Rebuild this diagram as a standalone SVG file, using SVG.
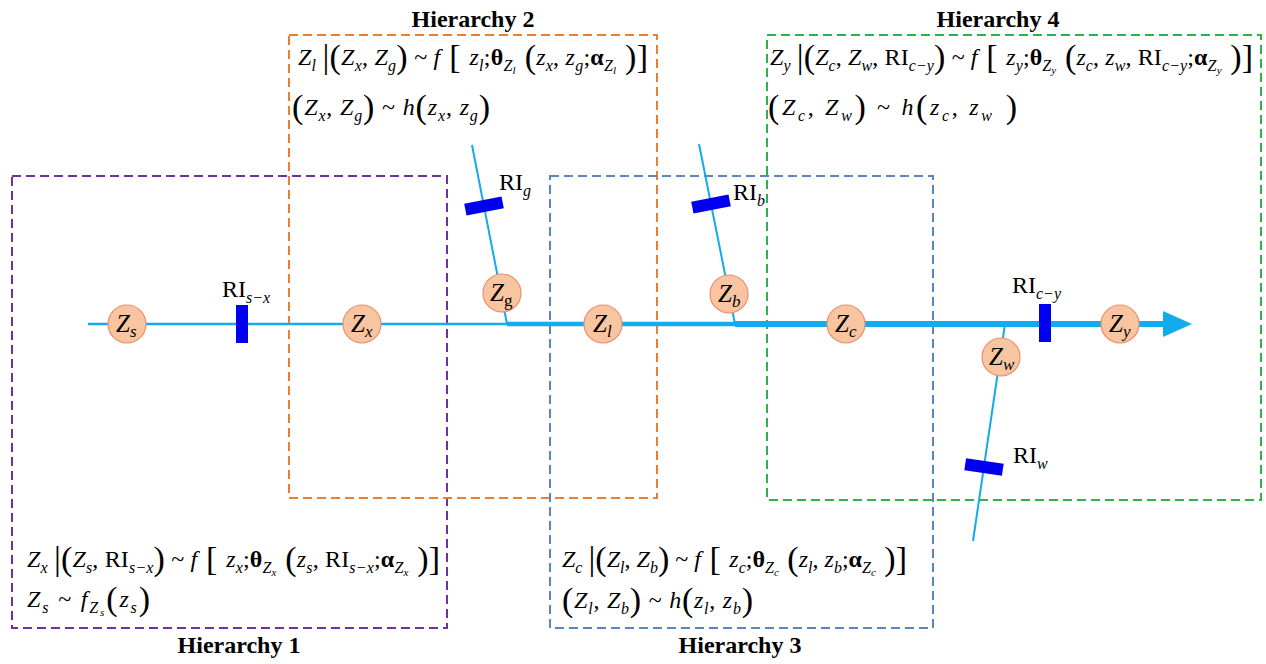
<svg xmlns="http://www.w3.org/2000/svg" width="1266" height="664" viewBox="0 0 1266 664">
<style>
.box{fill:none;stroke-width:2;stroke-dasharray:9 5}
.hl{font-family:"Liberation Serif",serif;font-weight:bold;font-size:24px;fill:#000;text-anchor:middle}
.f{font-family:"Liberation Serif",serif;font-size:24px;fill:#000}
.i{font-style:italic}
.s{font-size:16px}
.t{font-size:11px}
.b{font-weight:bold}
.g{font-size:34px}
.node circle{fill:#F9C4A0;stroke:#EE8E6B;stroke-width:1.2}
.node text{font-family:"Liberation Serif",serif;font-size:25px;font-style:italic;fill:#000}
.node .sb{font-size:17px}
.ln{stroke:#12ABEB;fill:none}
.bar{fill:#0000F0}
.ri{font-family:"Liberation Serif",serif;font-size:24px;fill:#000}
.ri .sb{font-size:16px;font-style:italic}
</style>
<rect width="1266" height="664" fill="#fff"/>
<g id="hierarchy1">
<rect class="box" x="12" y="176" width="435" height="452" stroke="#7030A0"/>
<text class="hl" x="239" y="653">Hierarchy 1</text>
<text class="f" x="27" y="567" textLength="413" lengthAdjust="spacing"><tspan class="i">Z</tspan><tspan class="i s" dy="6">x</tspan><tspan dy="-6"> </tspan><tspan class="g" dy="3">|(</tspan><tspan class="i" dy="-3">Z</tspan><tspan class="i s" dy="6">s</tspan><tspan dy="-6">, RI</tspan><tspan class="i s" dy="6">s−x</tspan><tspan class="g" dy="-3">)</tspan><tspan dy="-3"> ~ </tspan><tspan class="i">f</tspan><tspan class="g" dy="3"> [ </tspan><tspan class="i" dy="-3">z</tspan><tspan class="i s" dy="6">x</tspan><tspan dy="-6">;</tspan><tspan class="b">θ</tspan><tspan class="i s" dy="6">Z</tspan><tspan class="i t" dy="3">x</tspan><tspan class="g" dy="-6"> (</tspan><tspan class="i" dy="-3">z</tspan><tspan class="i s" dy="6">s</tspan><tspan dy="-6">, RI</tspan><tspan class="i s" dy="6">s−x</tspan><tspan dy="-6">;</tspan><tspan class="b">α</tspan><tspan class="i s" dy="6">Z</tspan><tspan class="i t" dy="3">x</tspan><tspan class="g" dy="-6"> )]</tspan></text>
<text class="f" x="27" y="607" textLength="123" lengthAdjust="spacing"><tspan class="i">Z</tspan><tspan class="i s" dy="6">s</tspan><tspan dy="-6"> ~ </tspan><tspan class="i">f</tspan><tspan class="i s" dy="6">Z</tspan><tspan class="i t" dy="3">s</tspan><tspan class="g" dy="-6">(</tspan><tspan class="i" dy="-3">z</tspan><tspan class="i s" dy="6">s</tspan><tspan class="g" dy="-3">)</tspan></text>
</g>
<g id="hierarchy2">
<rect class="box" x="289" y="35" width="368" height="463" stroke="#ED7D31"/>
<text class="hl" x="473" y="27">Hierarchy 2</text>
<text class="f" x="298" y="65" textLength="350" lengthAdjust="spacing"><tspan class="i">Z</tspan><tspan class="i s" dy="6">l</tspan><tspan dy="-6"> </tspan><tspan class="g" dy="3">|(</tspan><tspan class="i" dy="-3">Z</tspan><tspan class="i s" dy="6">x</tspan><tspan dy="-6">, </tspan><tspan class="i">Z</tspan><tspan class="i s" dy="6">g</tspan><tspan class="g" dy="-3">)</tspan><tspan dy="-3"> ~ </tspan><tspan class="i">f</tspan><tspan class="g" dy="3"> [ </tspan><tspan class="i" dy="-3">z</tspan><tspan class="i s" dy="6">l</tspan><tspan dy="-6">;</tspan><tspan class="b">θ</tspan><tspan class="i s" dy="6">Z</tspan><tspan class="i t" dy="3">l</tspan><tspan class="g" dy="-6"> (</tspan><tspan class="i" dy="-3">z</tspan><tspan class="i s" dy="6">x</tspan><tspan dy="-6">, </tspan><tspan class="i">z</tspan><tspan class="i s" dy="6">g</tspan><tspan dy="-6">;</tspan><tspan class="b">α</tspan><tspan class="i s" dy="6">Z</tspan><tspan class="i t" dy="3">l</tspan><tspan class="g" dy="-6"> )]</tspan></text>
<text class="f" x="292" y="115" textLength="198" lengthAdjust="spacing"><tspan class="g" dy="3">(</tspan><tspan class="i" dy="-3">Z</tspan><tspan class="i s" dy="6">x</tspan><tspan dy="-6">, </tspan><tspan class="i">Z</tspan><tspan class="i s" dy="6">g</tspan><tspan class="g" dy="-3">)</tspan><tspan dy="-3"> ~ </tspan><tspan class="i">h</tspan><tspan class="g" dy="3">(</tspan><tspan class="i" dy="-3">z</tspan><tspan class="i s" dy="6">x</tspan><tspan dy="-6">, </tspan><tspan class="i">z</tspan><tspan class="i s" dy="6">g</tspan><tspan class="g" dy="-3">)</tspan></text>
</g>
<g id="hierarchy3">
<rect class="box" x="550" y="176" width="383" height="452" stroke="#5A86C0"/>
<text class="hl" x="740" y="653">Hierarchy 3</text>
<text class="f" x="562" y="567" textLength="345" lengthAdjust="spacing"><tspan class="i">Z</tspan><tspan class="i s" dy="6">c</tspan><tspan dy="-6"> </tspan><tspan class="g" dy="3">|(</tspan><tspan class="i" dy="-3">Z</tspan><tspan class="i s" dy="6">l</tspan><tspan dy="-6">, </tspan><tspan class="i">Z</tspan><tspan class="i s" dy="6">b</tspan><tspan class="g" dy="-3">)</tspan><tspan dy="-3"> ~ </tspan><tspan class="i">f</tspan><tspan class="g" dy="3"> [ </tspan><tspan class="i" dy="-3">z</tspan><tspan class="i s" dy="6">c</tspan><tspan dy="-6">;</tspan><tspan class="b">θ</tspan><tspan class="i s" dy="6">Z</tspan><tspan class="i t" dy="3">c</tspan><tspan class="g" dy="-6"> (</tspan><tspan class="i" dy="-3">z</tspan><tspan class="i s" dy="6">l</tspan><tspan dy="-6">, </tspan><tspan class="i">z</tspan><tspan class="i s" dy="6">b</tspan><tspan dy="-6">;</tspan><tspan class="b">α</tspan><tspan class="i s" dy="6">Z</tspan><tspan class="i t" dy="3">c</tspan><tspan class="g" dy="-6"> )]</tspan></text>
<text class="f" x="562" y="608" textLength="191" lengthAdjust="spacing"><tspan class="g" dy="3">(</tspan><tspan class="i" dy="-3">Z</tspan><tspan class="i s" dy="6">l</tspan><tspan dy="-6">, </tspan><tspan class="i">Z</tspan><tspan class="i s" dy="6">b</tspan><tspan class="g" dy="-3">)</tspan><tspan dy="-3"> ~ </tspan><tspan class="i">h</tspan><tspan class="g" dy="3">(</tspan><tspan class="i" dy="-3">z</tspan><tspan class="i s" dy="6">l</tspan><tspan dy="-6">, </tspan><tspan class="i">z</tspan><tspan class="i s" dy="6">b</tspan><tspan class="g" dy="-3">)</tspan></text>
</g>
<g id="hierarchy4">
<rect class="box" x="767" y="35" width="494" height="465" stroke="#2DB34A"/>
<text class="hl" x="998" y="27">Hierarchy 4</text>
<text class="f" x="770" y="65" textLength="483" lengthAdjust="spacing"><tspan class="i">Z</tspan><tspan class="i s" dy="6">y</tspan><tspan dy="-6"> </tspan><tspan class="g" dy="3">|(</tspan><tspan class="i" dy="-3">Z</tspan><tspan class="i s" dy="6">c</tspan><tspan dy="-6">, </tspan><tspan class="i">Z</tspan><tspan class="i s" dy="6">w</tspan><tspan dy="-6">, RI</tspan><tspan class="i s" dy="6">c−y</tspan><tspan class="g" dy="-3">)</tspan><tspan dy="-3"> ~ </tspan><tspan class="i">f</tspan><tspan class="g" dy="3"> [ </tspan><tspan class="i" dy="-3">z</tspan><tspan class="i s" dy="6">y</tspan><tspan dy="-6">;</tspan><tspan class="b">θ</tspan><tspan class="i s" dy="6">Z</tspan><tspan class="i t" dy="3">y</tspan><tspan class="g" dy="-6"> (</tspan><tspan class="i" dy="-3">z</tspan><tspan class="i s" dy="6">c</tspan><tspan dy="-6">, </tspan><tspan class="i">z</tspan><tspan class="i s" dy="6">w</tspan><tspan dy="-6">, RI</tspan><tspan class="i s" dy="6">c−y</tspan><tspan dy="-6">;</tspan><tspan class="b">α</tspan><tspan class="i s" dy="6">Z</tspan><tspan class="i t" dy="3">y</tspan><tspan class="g" dy="-6"> )]</tspan></text>
<text class="f" x="768" y="115" textLength="249" lengthAdjust="spacing"><tspan class="g" dy="3">(</tspan><tspan class="i" dy="-3">Z</tspan><tspan class="i s" dy="6">c</tspan><tspan dy="-6">, </tspan><tspan class="i">Z</tspan><tspan class="i s" dy="6">w</tspan><tspan class="g" dy="-3">)</tspan><tspan dy="-3"> ~ </tspan><tspan class="i">h</tspan><tspan class="g" dy="3">(</tspan><tspan class="i" dy="-3">z</tspan><tspan class="i s" dy="6">c</tspan><tspan dy="-6">, </tspan><tspan class="i">z</tspan><tspan class="i s" dy="6">w</tspan><tspan class="g" dy="-3"> )</tspan></text>
</g>
<g id="connectors">
<line class="ln" x1="88" y1="324" x2="508" y2="324" stroke-width="2.5"/>
<line class="ln" x1="507" y1="324" x2="736" y2="324" stroke-width="4.5"/>
<line class="ln" x1="735" y1="324" x2="1166" y2="324" stroke-width="6"/>
<polygon points="1163,311 1192,324 1163,337" fill="#12ABEB"/>
<polyline class="ln" points="472,145 507,324 510,324" stroke-width="2"/>
<polyline class="ln" points="699,144 735,324 738,324" stroke-width="2"/>
<line class="ln" x1="1005" y1="324" x2="973" y2="541" stroke-width="2"/>
</g>
<g id="ri_sx">
<rect class="bar" x="236" y="305" width="12" height="38"/>
<text class="ri" x="222" y="297">RI<tspan class="sb" dy="6">s−x</tspan></text>
</g>
<g id="ri_g">
<rect class="bar" x="-19" y="-6" width="38" height="12" transform="translate(484,206) rotate(-11)"/>
<text class="ri" x="499" y="190">RI<tspan class="sb" dy="6">g</tspan></text>
</g>
<g id="ri_b">
<rect class="bar" x="-19" y="-6" width="38" height="12" transform="translate(711,204) rotate(-11)"/>
<text class="ri" x="733" y="200">RI<tspan class="sb" dy="6">b</tspan></text>
</g>
<g id="ri_cy">
<rect class="bar" x="1039" y="304" width="12" height="38"/>
<text class="ri" x="1012" y="293">RI<tspan class="sb" dy="6">c−y</tspan></text>
</g>
<g id="ri_w">
<rect class="bar" x="-19" y="-6" width="38" height="12" transform="translate(984,467) rotate(8.5)"/>
<text class="ri" x="1013" y="463">RI<tspan class="sb" dy="6">w</tspan></text>
</g>
<g id="node_zs" class="node"><circle cx="127" cy="324" r="19"/><text x="116" y="332">Z<tspan class="sb" dy="5">s</tspan></text></g>
<g id="node_zx" class="node"><circle cx="362" cy="324" r="19"/><text x="351" y="332">Z<tspan class="sb" dy="5">x</tspan></text></g>
<g id="node_zg" class="node"><circle cx="502" cy="293" r="19"/><text x="490" y="301">Z<tspan class="sb" dy="5" font-style="normal">g</tspan></text></g>
<g id="node_zl" class="node"><circle cx="603" cy="324" r="19"/><text x="593" y="332">Z<tspan class="sb" dy="5">l</tspan></text></g>
<g id="node_zb" class="node"><circle cx="729" cy="294" r="19"/><text x="718" y="302">Z<tspan class="sb" dy="5">b</tspan></text></g>
<g id="node_zc" class="node"><circle cx="846" cy="324" r="19"/><text x="835" y="332">Z<tspan class="sb" dy="5">c</tspan></text></g>
<g id="node_zw" class="node"><circle cx="1001" cy="357" r="19"/><text x="989" y="365">Z<tspan class="sb" dy="5">w</tspan></text></g>
<g id="node_zy" class="node"><circle cx="1120" cy="324" r="19"/><text x="1109" y="332">Z<tspan class="sb" dy="5">y</tspan></text></g>
</svg>
